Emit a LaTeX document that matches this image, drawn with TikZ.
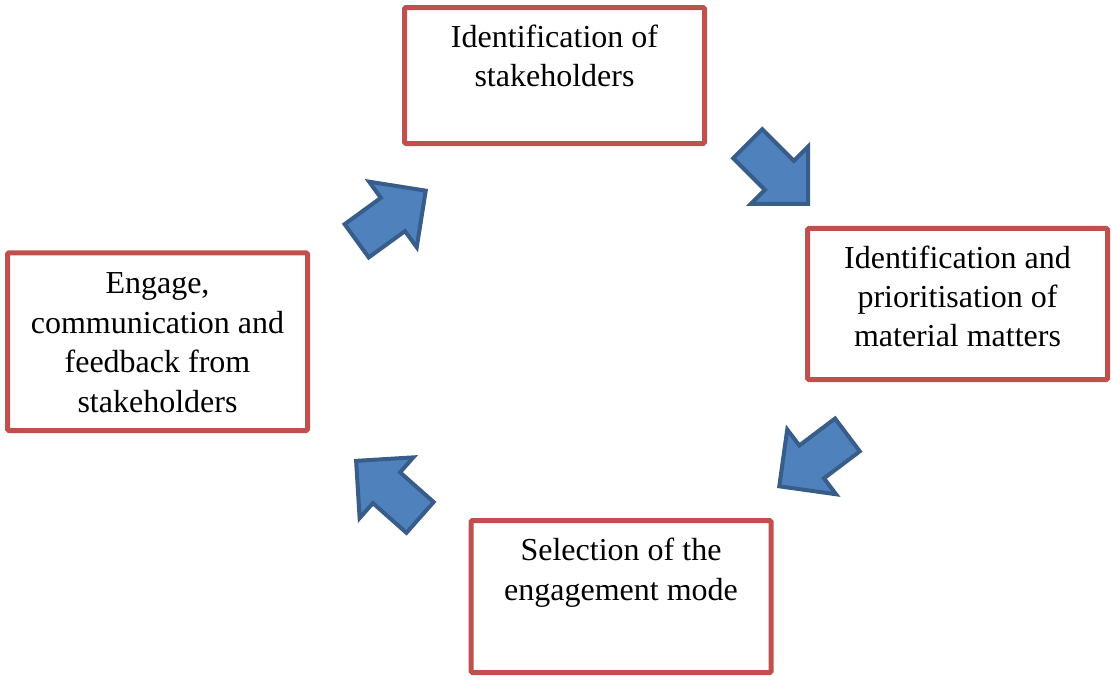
\documentclass[tikz,border=0pt]{standalone}
\usepackage{fontspec}
\setmainfont{Liberation Serif}
\usetikzlibrary{shapes.arrows}
\definecolor{boxred}{HTML}{C0504D}
\definecolor{arrowfill}{HTML}{4F81BD}
\definecolor{arrowline}{HTML}{385D8A}
\tikzset{
  stage/.style={draw=boxred, line width=3.75pt, rounded corners=1pt, anchor=base,
    align=center, inner sep=0pt, minimum width=225pt,
    font=\fontsize{24}{29.6}\selectfont},
  cyclearrow/.style={single arrow, draw=arrowline, fill=arrowfill, line width=3pt,
    minimum height=64pt, minimum width=58pt, single arrow head extend=15pt,
    single arrow tip angle=90, inner xsep=0pt, inner ysep=13.9pt, anchor=tip}
}
\begin{document}
\begin{tikzpicture}[x=0.75pt,y=-0.75pt]
   \useasboundingbox (0,0) rectangle (1112,680);
   %stages
   \node[stage, text height=59.6pt, text depth=42.4pt] (ident) at (554.5,87) {Identification of\\stakeholders};
   \node[stage, text height=88.9pt, text depth=24.4pt] (prior) at (957.5,347) {Identification and\\prioritisation of\\material matters};
   \node[stage, text height=59.6pt, text depth=54.4pt] (mode) at (621,600) {Selection of the\\engagement mode};
   \node[stage, text height=119.3pt, text depth=13.9pt] (engage) at (157.5,412) {Engage,\\communication and\\feedback from\\stakeholders};
   %arrows
   \node[cyclearrow, rotate=-45] (toprior) at (810,206) {};
   \node[cyclearrow, rotate=217] (tomode) at (777,488) {};
   \node[cyclearrow, rotate=138.5] (toengage) at (354,459) {};
   \node[cyclearrow, rotate=36] (toident) at (428,189) {};
\end{tikzpicture}
\end{document}
